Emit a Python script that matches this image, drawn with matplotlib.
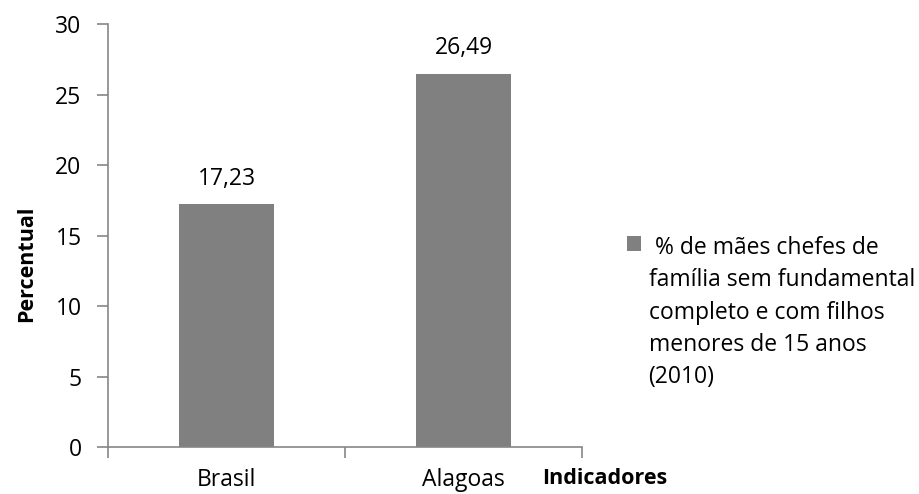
import matplotlib.pyplot as plt
import numpy as np

plt.rcParams['font.family'] = ['Open Sans', 'DejaVu Sans']

categorias = ['Brasil', 'Alagoas']
valores = [17.23, 26.49]
rotulo_serie = ' % de mães chefes de\nfamília sem fundamental\ncompleto e com filhos\nmenores de 15 anos\n(2010)'

cor_barra = '#808080'
cor_eixo = '#868686'

fig = plt.figure(figsize=(9.19, 4.94), dpi=100)
ax = fig.add_axes([0.1175, 0.0951, 0.5158, 0.8563])

x = np.arange(len(categorias))
barras = ax.bar(x, valores, width=0.40, color=cor_barra, label=rotulo_serie, zorder=2)

for xi, v in zip(x, valores):
    ax.annotate(f'{v:.2f}'.replace('.', ','), (xi, v), xytext=(0, 9.5),
                textcoords='offset points', ha='center', va='bottom', fontsize=16.5)

ax.set_xlim(-0.5, len(categorias) - 0.5)
ax.set_ylim(0, 30)
ax.set_yticks(range(0, 31, 5))

# ticks at category boundaries, labels at centers
ax.set_xticks(np.arange(-0.5, len(categorias), 1.0))
ax.set_xticklabels([])
ax.set_xticks(x, minor=True)
ax.set_xticklabels(categorias, minor=True)
ax.tick_params(axis='x', which='major', length=8, color=cor_eixo, width=1.2)
ax.tick_params(axis='x', which='minor', length=0, pad=15, labelsize=16.5)
ax.tick_params(axis='y', length=8, color=cor_eixo, width=1.2, pad=11, labelsize=16.5)

for s in ['top', 'right']:
    ax.spines[s].set_visible(False)
for s in ['left', 'bottom']:
    ax.spines[s].set_color(cor_eixo)
    ax.spines[s].set_linewidth(1.2)

ax.set_ylabel('Percentual', fontsize=15.5, fontweight='bold')
ax.yaxis.set_label_coords(-0.150, 0.433)
fig.text(0.590, 0.020, 'Indicadores', fontsize=15.5, fontweight='bold', ha='left', va='baseline')

leg = ax.legend(loc='upper left', bbox_to_anchor=(0.682, 0.522), bbox_transform=fig.transFigure,
                frameon=False, fontsize=16.5, handlelength=0.6, handleheight=0.6,
                handletextpad=0.35, borderaxespad=0, borderpad=0)
for t in leg.get_texts():
    t.set_linespacing(1.46)
# square next to the first line, as in the original
for col in leg._legend_handle_box.get_children():
    for fila in col.get_children():
        fila.align = 'top'

fig.savefig('out.png', dpi=100)
